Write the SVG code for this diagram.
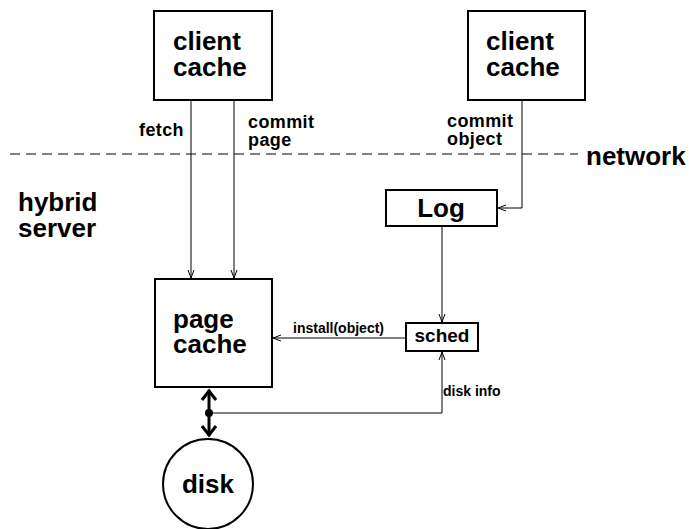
<svg xmlns="http://www.w3.org/2000/svg" width="689" height="529" viewBox="0 0 689 529">
<defs>
<style>
text{font-family:"Liberation Sans",Arial,sans-serif;font-weight:bold;fill:#000}
.big{font-size:26px}
.lbl{font-size:18px;letter-spacing:0.4px}
.sm{font-size:14px}
.box{fill:#fff;stroke:#000;stroke-width:2}
.ln{fill:none;stroke:#000;stroke-width:1}
.thick{fill:none;stroke:#000;stroke-width:3}
</style>
<marker id="ah" markerWidth="10" markerHeight="10" refX="9" refY="5" orient="auto" markerUnits="userSpaceOnUse">
<path d="M1,2 L9,5 L1,8" fill="none" stroke="#000" stroke-width="1"/>
</marker>
<marker id="tah" markerWidth="16" markerHeight="16" refX="14" refY="8" orient="auto-start-reverse" markerUnits="userSpaceOnUse">
<path d="M4,1 L13,8 L4,15" fill="none" stroke="#000" stroke-width="3"/>
</marker>
</defs>
<line x1="10" y1="154" x2="578" y2="154" stroke="#000" stroke-width="1" stroke-dasharray="10,6"/>
<text class="big" x="586" y="165">network</text>
<text class="big" x="18" y="211">hybrid</text>
<text class="big" x="18" y="237">server</text>
<g id="connectors">
<line class="ln" x1="191" y1="100" x2="191" y2="278" marker-end="url(#ah)"/>
<line class="ln" x1="234" y1="100" x2="234" y2="278" marker-end="url(#ah)"/>
<text class="lbl" x="184" y="136" text-anchor="end">fetch</text>
<text class="lbl" x="248" y="128">commit</text>
<text class="lbl" x="248" y="146">page</text>
<polyline class="ln" points="522,100 522,208 498,208" marker-end="url(#ah)"/>
<text class="lbl" x="447" y="127">commit</text>
<text class="lbl" x="447" y="145">object</text>
<line class="ln" x1="442" y1="226" x2="442" y2="322" marker-end="url(#ah)"/>
<line class="ln" x1="406" y1="338" x2="273" y2="338" marker-end="url(#ah)"/>
<text class="sm" x="293" y="333">install(object)</text>
<polyline class="ln" points="209,413 442,413 442,352" marker-end="url(#ah)"/>
<text class="sm" x="443" y="396">disk info</text>
<line class="thick" x1="209" y1="390" x2="209" y2="436" marker-start="url(#tah)" marker-end="url(#tah)"/>
<circle cx="209" cy="413" r="4" fill="#000"/>
</g>
<g id="client-cache-1">
<rect class="box" x="154" y="11" width="118" height="89"/>
<text class="big" x="173" y="50">client</text>
<text class="big" x="173" y="76">cache</text>
</g>
<g id="client-cache-2">
<rect class="box" x="468" y="11" width="117" height="89"/>
<text class="big" x="486" y="50">client</text>
<text class="big" x="486" y="76">cache</text>
</g>
<g id="log">
<rect class="box" x="386" y="190" width="111" height="36"/>
<text class="big" x="441" y="217" text-anchor="middle">Log</text>
</g>
<g id="sched">
<rect class="box" x="406" y="323" width="72" height="28"/>
<text x="442" y="342" font-size="19" text-anchor="middle">sched</text>
</g>
<g id="page-cache">
<rect class="box" x="155" y="279" width="117" height="108"/>
<text class="big" x="173" y="328">page</text>
<text class="big" x="173" y="353">cache</text>
</g>
<g id="disk">
<circle cx="208" cy="484" r="45" fill="#fff" stroke="#000" stroke-width="2"/>
<text class="big" x="208" y="493" text-anchor="middle">disk</text>
</g>
</svg>
